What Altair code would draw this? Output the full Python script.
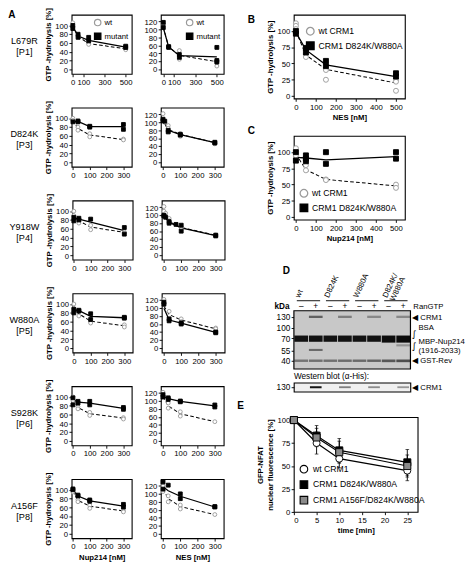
import altair as alt
import pandas as pd

FONT = "Liberation Sans"

# ---------------- Panel A : GTP hydrolysis [%] vs Nup214 (left) / NES (right) [nM]
ROW_NAMES = ["L679R", "D824K", "Y918W", "W880A", "S928K", "A156F"]
ROW_PEPTIDES = ["[P1]", "[P3]", "[P4]", "[P5]", "[P6]", "[P8]"]

L679R_NUP_WT = [(0, 106), (0, 98), (50, 78), (50, 74), (150, 60), (150, 57), (500, 48), (500, 45)]
L679R_NUP_MUT = [(0, 100), (0, 93), (50, 80), (50, 73), (150, 73), (150, 65), (500, 53), (500, 50)]
L679R_NUP_WT_FIT = [(0, 100), (50, 75), (150, 59), (500, 47)]
L679R_NUP_MUT_FIT = [(0, 97), (50, 76), (150, 66), (500, 51)]
L679R_NES_WT = [(0, 113), (50, 57), (50, 55), (150, 47), (150, 25), (500, 8), (500, 22)]
L679R_NES_MUT = [(0, 118), (0, 105), (50, 57), (50, 55), (150, 37), (150, 30), (500, 55), (500, 22), (500, 18)]
L679R_NES_WT_FIT = [(0, 106), (50, 56), (150, 35), (500, 19)]
L679R_NES_MUT_FIT = [(0, 104), (50, 56), (150, 34), (500, 31)]

D824K_NUP_WT = [(0, 100), (0, 95), (30, 80), (30, 73), (100, 65), (100, 58), (300, 53), (300, 51)]
D824K_NUP_MUT = [(0, 92), (30, 94), (30, 92), (100, 82), (100, 80), (300, 86), (300, 75)]
D824K_NUP_WT_FIT = [(0, 97), (30, 77), (100, 62), (300, 52)]
D824K_NUP_MUT_FIT = [(0, 92), (30, 93), (100, 81), (300, 81)]
D824K_NES_WT = [(0, 122), (0, 107), (10, 100), (30, 92), (30, 85), (100, 72), (100, 65), (300, 48), (300, 46)]
D824K_NES_MUT = [(0, 108), (0, 104), (10, 103), (30, 80), (30, 76), (100, 70), (100, 68), (300, 50), (300, 48)]
D824K_NES_WT_FIT = [(0, 106), (10, 98), (30, 82), (100, 70), (300, 49)]
D824K_NES_MUT_FIT = [(0, 106), (10, 98), (30, 80), (100, 69), (300, 49)]

Y918W_NUP_WT = [(0, 100), (0, 90), (30, 78), (30, 73), (100, 68), (100, 58), (300, 53), (300, 50)]
Y918W_NUP_MUT = [(0, 86), (0, 78), (30, 84), (30, 80), (100, 82), (300, 63), (300, 48)]
Y918W_NUP_WT_FIT = [(0, 90), (30, 78), (100, 64), (300, 52)]
Y918W_NUP_MUT_FIT = [(0, 84), (30, 82), (100, 75), (300, 56)]
Y918W_NES_WT = [(0, 122), (0, 110), (10, 105), (30, 92), (30, 86), (100, 70), (100, 65), (300, 50)]
Y918W_NES_MUT = [(0, 100), (0, 98), (10, 95), (30, 84), (30, 80), (70, 77), (100, 75), (100, 60), (300, 50), (300, 48)]
Y918W_NES_WT_FIT = [(0, 103), (10, 95), (30, 84), (100, 69), (300, 50)]
Y918W_NES_MUT_FIT = [(0, 100), (10, 93), (30, 82), (100, 68), (300, 49)]

W880A_NUP_WT = [(0, 100), (0, 90), (30, 73), (100, 60), (100, 57), (300, 53), (300, 48)]
W880A_NUP_MUT = [(0, 88), (0, 80), (30, 86), (30, 84), (100, 78), (100, 65), (300, 70), (300, 68)]
W880A_NUP_WT_FIT = [(0, 95), (30, 78), (100, 61), (300, 51)]
W880A_NUP_MUT_FIT = [(0, 87), (30, 85), (100, 72), (300, 69)]
W880A_NES_WT = [(0, 122), (0, 110), (30, 92), (100, 73), (100, 66), (300, 50), (300, 48)]
W880A_NES_MUT = [(0, 115), (0, 110), (30, 73), (30, 68), (100, 63), (100, 60), (300, 40), (300, 38)]
W880A_NES_WT_FIT = [(0, 105), (30, 84), (100, 70), (300, 48)]
W880A_NES_MUT_FIT = [(0, 100), (30, 70), (100, 62), (300, 39)]

S928K_NUP_WT = [(0, 100), (0, 92), (30, 78), (30, 73), (100, 65), (100, 58), (300, 53), (300, 50)]
S928K_NUP_MUT = [(0, 98), (0, 82), (30, 90), (30, 86), (100, 90), (100, 82), (300, 76), (300, 72)]
S928K_NUP_WT_FIT = [(0, 95), (30, 76), (100, 62), (300, 52)]
S928K_NUP_MUT_FIT = [(0, 95), (30, 88), (100, 86), (300, 74)]
S928K_NES_WT = [(0, 122), (0, 112), (30, 95), (30, 82), (100, 73), (100, 62), (300, 48)]
S928K_NES_MUT = [(0, 116), (0, 110), (30, 108), (30, 104), (100, 100), (100, 98), (300, 90), (300, 85)]
S928K_NES_WT_FIT = [(0, 112), (30, 88), (100, 68), (300, 48)]
S928K_NES_MUT_FIT = [(0, 112), (30, 106), (100, 99), (300, 88)]

A156F_NUP_WT = [(0, 100), (0, 95), (30, 78), (30, 73), (100, 65), (100, 58), (300, 53), (300, 50)]
A156F_NUP_MUT = [(0, 102), (0, 100), (30, 88), (30, 86), (100, 77), (100, 74), (300, 67), (300, 61)]
A156F_NUP_WT_FIT = [(0, 97), (30, 76), (100, 63), (300, 52)]
A156F_NUP_MUT_FIT = [(0, 100), (30, 86), (100, 75), (300, 63)]
A156F_NES_WT = [(0, 120), (0, 106), (30, 95), (30, 80), (100, 72), (100, 62), (300, 48)]
A156F_NES_MUT = [(0, 130), (0, 112), (30, 122), (100, 100), (100, 88), (300, 68), (300, 67)]
A156F_NES_WT_FIT = [(0, 112), (30, 88), (100, 68), (300, 48)]
A156F_NES_MUT_FIT = [(0, 118), (30, 108), (100, 94), (300, 67)]

X_TICKS_500 = [0, 100, 300, 500]
X_TICKS_300 = [0, 100, 200, 300]
Y_TICKS_NUP = [0, 20, 40, 60, 80, 100]
Y_TICKS_NES = [0, 20, 40, 60, 80, 100, 120]

# ---------------- Panels B and C : CRM1 wt vs D824K/W880A
BC_NAMES = ["wt CRM1", "CRM1 D824K/W880A"]
B_WT = [(0, 112), (0, 108), (0, 103), (0, 98), (50, 65), (50, 60), (150, 40), (150, 25), (500, 25), (500, 22), (500, 8)]
B_MUT = [(0, 100), (0, 96), (50, 74), (50, 67), (150, 54), (150, 46), (500, 35), (500, 30)]
B_WT_FIT = [(0, 100), (50, 63), (150, 41), (500, 20)]
B_MUT_FIT = [(0, 98), (50, 71), (150, 48), (500, 30)]
C_WT = [(0, 106), (0, 95), (50, 80), (50, 72), (150, 58), (150, 57), (500, 50), (500, 45)]
C_MUT = [(0, 100), (0, 87), (50, 95), (50, 90), (50, 86), (150, 100), (150, 82), (500, 100), (500, 90)]
C_WT_FIT = [(0, 97), (50, 73), (150, 58), (500, 48)]
C_MUT_FIT = [(0, 92), (50, 91), (150, 88), (500, 93)]
BC_X_TICKS = [0, 100, 200, 300, 400, 500]
BC_Y_TICKS = [0, 25, 50, 75, 100]

# ---------------- Panel D : gel
GEL_GROUPS = ["wt", "D824K", "W880A", "D824K/\nW880A"]
GEL_SIGNS = ["–", "+", "–", "+", "–", "+", "–", "+"]
GEL_MARKERS = [130, 100, 70, 55, 40]
GEL_BAND_LANE = [1, 3, 5, 7, 0, 1, 2, 3, 4, 5, 6, 7, 1, 7, 0, 1, 2, 3, 4, 5, 6, 7]
GEL_BAND_TOP = [134, 134, 134, 134, 78, 78, 78, 78, 78, 78, 78, 78, 57.5, 63, 41.5, 41.5, 41.5, 41.5, 41.5, 41.5, 41.5, 41.5]
GEL_BAND_BOT = [127, 127, 127, 127, 66, 66, 66, 66, 66, 66, 65, 65, 55, 60.5, 38.8, 38.8, 38.8, 38.8, 38.8, 38.8, 38.6, 38.6]
GEL_BAND_INT = [0.5, 0.35, 0.3, 0.3, 0.95, 0.95, 0.95, 0.95, 0.95, 0.95, 0.97, 0.98, 0.45, 0.25,
                0.4, 0.42, 0.42, 0.44, 0.45, 0.48, 0.55, 0.6]
WB_LANE = [1, 3, 5, 7]
WB_INT = [0.95, 0.45, 0.4, 0.35]

# ---------------- Panel E : GFP-NFAT nuclear fluorescence
E_NAMES = ["wt CRM1", "CRM1 D824K/W880A", "CRM1 A156F/D824K/W880A"]
E_TIME = [0, 5, 10, 25]
E_WT = [100, 75, 58, 45]
E_WT_ERR = [0, 12, 10, 11]
E_DW = [100, 83, 67, 54]
E_DW_ERR = [0, 11, 13, 14]
E_ADW = [100, 81, 65, 50]
E_ADW_ERR = [0, 10, 12, 12]


# ======================================================================
def xy_df(pairs):
    return pd.DataFrame({"x": [p[0] for p in pairs], "y": [p[1] for p in pairs]})


def pts_df(wt, mut, names):
    rows = [{"x": x, "y": y, "s": names[0]} for x, y in wt]
    rows += [{"x": x, "y": y, "s": names[1]} for x, y in mut]
    return pd.DataFrame(rows)


def letter(t, dx=0, offset=0):
    return alt.TitleParams(text=t, anchor="start", fontSize=11, fontWeight="bold",
                           dx=dx, offset=offset, font=FONT)


def gtp_panel(wt, mut, wt_fit, mut_fit, xdom, xticks, ydom, yticks, width, height,
              names=("wt", "mutant"), xtitle=None, ytitle=None, legend=None,
              title=None, psize=18):
    x = alt.X("x:Q", scale=alt.Scale(domain=xdom, nice=False, zero=False),
              axis=alt.Axis(values=xticks), title=xtitle)
    y = alt.Y("y:Q", scale=alt.Scale(domain=ydom, nice=False, zero=False),
              axis=alt.Axis(values=yticks), title=ytitle)
    dashed = alt.Chart(xy_df(wt_fit)).mark_line(
        color="black", strokeDash=[4, 2.5], strokeWidth=1.1).encode(x=x, y=y)
    solid = alt.Chart(xy_df(mut_fit)).mark_line(
        color="black", strokeWidth=1.4).encode(x=x, y=y)
    nm = list(names)
    pts = alt.Chart(pts_df(wt, mut, names)).mark_point(
        filled=True, opacity=1, strokeWidth=1, size=psize).encode(
        x=x, y=y,
        shape=alt.Shape("s:N", scale=alt.Scale(domain=nm, range=["circle", "square"]), legend=legend),
        fill=alt.Fill("s:N", scale=alt.Scale(domain=nm, range=["white", "black"]), legend=legend),
        stroke=alt.Stroke("s:N", scale=alt.Scale(domain=nm, range=["#9a9a9a", "black"]), legend=legend),
    )
    ch = alt.layer(dashed, solid, pts).properties(width=width, height=height)
    if title is not None:
        ch = ch.properties(title=title)
    return ch


def indep(ch):
    return ch.resolve_scale(shape="independent", fill="independent",
                            stroke="independent", color="independent")


# ---------------- Panel A
A_DATA = [
    (L679R_NUP_WT, L679R_NUP_MUT, L679R_NUP_WT_FIT, L679R_NUP_MUT_FIT,
     L679R_NES_WT, L679R_NES_MUT, L679R_NES_WT_FIT, L679R_NES_MUT_FIT),
    (D824K_NUP_WT, D824K_NUP_MUT, D824K_NUP_WT_FIT, D824K_NUP_MUT_FIT,
     D824K_NES_WT, D824K_NES_MUT, D824K_NES_WT_FIT, D824K_NES_MUT_FIT),
    (Y918W_NUP_WT, Y918W_NUP_MUT, Y918W_NUP_WT_FIT, Y918W_NUP_MUT_FIT,
     Y918W_NES_WT, Y918W_NES_MUT, Y918W_NES_WT_FIT, Y918W_NES_MUT_FIT),
    (W880A_NUP_WT, W880A_NUP_MUT, W880A_NUP_WT_FIT, W880A_NUP_MUT_FIT,
     W880A_NES_WT, W880A_NES_MUT, W880A_NES_WT_FIT, W880A_NES_MUT_FIT),
    (S928K_NUP_WT, S928K_NUP_MUT, S928K_NUP_WT_FIT, S928K_NUP_MUT_FIT,
     S928K_NES_WT, S928K_NES_MUT, S928K_NES_WT_FIT, S928K_NES_MUT_FIT),
    (A156F_NUP_WT, A156F_NUP_MUT, A156F_NUP_WT_FIT, A156F_NUP_MUT_FIT,
     A156F_NES_WT, A156F_NES_MUT, A156F_NES_WT_FIT, A156F_NES_MUT_FIT),
]

PH = 65  # panel A plot height
rows = []
for i, d in enumerate(A_DATA):
    first, last = i == 0, i == len(A_DATA) - 1
    if first:
        xl_dom, xl_ticks = [-10, 558], X_TICKS_500
        xr_dom, xr_ticks = [-22, 565], X_TICKS_500
    else:
        xl_dom, xl_ticks = [-7, 350], X_TICKS_300
        xr_dom, xr_ticks = [-12, 352], X_TICKS_300
    leg_l = alt.Legend(title=None, orient="top-right", offset=4, symbolSize=50,
                       labelFontSize=8.5, rowPadding=2, padding=0, symbolStrokeWidth=1.3,
                       labelOffset=3) if first else None
    leg_r = alt.Legend(title=None, orient="top-right", offset=4, symbolSize=50,
                       labelFontSize=8.5, rowPadding=2, padding=0, symbolStrokeWidth=1.3,
                       labelOffset=3) if first else None
    label = alt.Chart(pd.DataFrame({"t": [ROW_NAMES[i] + "\n" + ROW_PEPTIDES[i]]})).mark_text(
        lineBreak="\n", fontSize=10, font=FONT, align="center", baseline="middle", lineHeight=12
    ).encode(text="t:N", x=alt.value(17), y=alt.value(PH / 2 - 3)).properties(
        width=30, height=PH, view=alt.ViewBackground(stroke="transparent"))
    left = gtp_panel(d[0], d[1], d[2], d[3], xl_dom, xl_ticks, [-10, 124], Y_TICKS_NUP, 66, PH,
                     xtitle="Nup214 [nM]" if last else None, ytitle="GTP -hydrolysis [%]",
                     legend=leg_l)
    right = gtp_panel(d[4], d[5], d[6], d[7], xr_dom, xr_ticks, [-12, 137], Y_TICKS_NES, 69, PH,
                      xtitle="NES [nM]" if last else None, legend=leg_r)
    pair = indep(alt.hconcat(left, right, spacing=11))
    rows.append(indep(alt.hconcat(label, pair, spacing=4)))

left_col = indep(alt.vconcat(*rows, spacing=14, title=letter("A", dx=0, offset=-14)))

# ---------------- Panels B, C
leg_b = alt.Legend(title=None, orient="top-left", offset=13, symbolSize=70,
                   labelFontSize=9.5, rowPadding=2, padding=0, symbolStrokeWidth=1.4, labelOffset=4)
leg_c = alt.Legend(title=None, orient="bottom-left", offset=6, symbolSize=70,
                   labelFontSize=9.5, rowPadding=2, padding=0, symbolStrokeWidth=1.4, labelOffset=4)
panel_b = gtp_panel(B_WT, B_MUT, B_WT_FIT, B_MUT_FIT, [-10, 545], BC_X_TICKS, [-4, 125], BC_Y_TICKS,
                    122, 92, names=BC_NAMES, xtitle="NES [nM]", ytitle="GTP -hydrolysis [%]",
                    legend=leg_b, title=letter("B", dx=-20, offset=-11), psize=30)
panel_c = gtp_panel(C_WT, C_MUT, C_WT_FIT, C_MUT_FIT, [-10, 545], BC_X_TICKS, [-4, 125], BC_Y_TICKS,
                    122, 92, names=BC_NAMES, xtitle="Nup214 [nM]", ytitle="GTP -hydrolysis [%]",
                    legend=leg_c, title=letter("C", dx=-20, offset=0), psize=30)

# ---------------- Panel D : gel
GEL_W = 128
gel_y_scale = alt.Scale(domain=[33, 40, 55, 70, 100, 130, 150, 200, 300, 400, 1000],
                        range=[90, 80.6, 70.2, 56.4, 44.5, 32.8, 26, 21.5, 15, 13, 0],
                        nice=False, zero=False)
gx = alt.X("lane:Q", scale=alt.Scale(domain=[-0.5, 7.5], nice=False, zero=False), axis=None)
gx2 = alt.X2("lane2:Q")
gy = alt.Y("k:Q", scale=gel_y_scale, title=None,
           axis=alt.Axis(values=GEL_MARKERS, labelFontSize=9, tickSize=3))
gy2 = alt.Y2("k2:Q")

frame_df = pd.DataFrame({"lane": [-0.5], "lane2": [7.5], "k": [150], "k2": [33]})
gel_bg = alt.Chart(frame_df).mark_rect(fill="#c8c8c8").encode(x=gx, x2=gx2, y=gy, y2=gy2)
bands_df = pd.DataFrame({"c": GEL_BAND_LANE, "k": GEL_BAND_TOP, "k2": GEL_BAND_BOT, "i": GEL_BAND_INT})
bands_df["lane"] = bands_df["c"] - 0.47
bands_df["lane2"] = bands_df["c"] + 0.47
gel_bands = alt.Chart(bands_df).mark_rect().encode(
    x=gx, x2=gx2, y=gy, y2=gy2,
    color=alt.Color("i:Q", scale=alt.Scale(domain=[0, 1], range=["#c8c8c8", "#050505"]), legend=None))
gel_frame = alt.Chart(frame_df).mark_rect(fill="transparent", stroke="black", strokeWidth=1.3).encode(
    x=gx, x2=gx2, y=gy, y2=gy2)

signs_df = pd.DataFrame({"lane": list(range(8)), "k": [200] * 8, "t": GEL_SIGNS})
gel_signs = alt.Chart(signs_df).mark_text(fontSize=9, baseline="middle", font=FONT).encode(
    x=gx, y=gy, text="t:N")
grp_df = pd.DataFrame({"g": GEL_GROUPS})
grp_df["lane"] = [2 * j for j in range(4)]
grp_df["k"] = 400
gel_groups = alt.Chart(grp_df).mark_text(angle=295, align="left", baseline="bottom", fontSize=8.5,
                                         lineBreak="\n", font=FONT, lineHeight=9).encode(
    x=gx, y=gy, text="g:N")
ul_df = pd.DataFrame({"lane": [2 * j - 0.3 for j in range(4)],
                      "lane2": [2 * j + 1.3 for j in range(4)], "k": [300] * 4})
gel_ul = alt.Chart(ul_df).mark_rule(color="black", strokeWidth=1).encode(x=gx, x2=gx2, y=gy)
ann_df = pd.DataFrame({
    "t": ["◀ CRM1", "BSA", "MBP-Nup214", "(1916-2033)", "◀ GST-Rev", "RanGTP"],
    "lane": [7.62, 8.05, 8.05, 8.05, 7.62, 7.7],
    "k": [130, 100, 67, 56, 40, 200]})
gel_ann = alt.Chart(ann_df).mark_text(align="left", baseline="middle", fontSize=8.5, font=FONT).encode(
    x=gx, y=gy, text="t:N")
brace_df = pd.DataFrame({"t": ["∫", "∫"], "lane": [7.75, 7.75], "k": [82, 61]})
gel_brace = alt.Chart(brace_df).mark_text(align="center", baseline="middle", fontSize=10,
                                          font="DejaVu Sans").encode(x=gx, y=gy, text="t:N")
kda_df = pd.DataFrame({"t": ["kDa"], "lane": [-0.8], "k": [200]})
gel_kda = alt.Chart(kda_df).mark_text(align="right", baseline="middle", fontSize=9,
                                      fontWeight="bold", font=FONT).encode(x=gx, y=gy, text="t:N")

gel = alt.layer(gel_bg, gel_bands, gel_frame, gel_signs, gel_groups, gel_ul, gel_ann,
                gel_brace, gel_kda).properties(
    width=GEL_W, height=90, title=letter("D", dx=9, offset=-4),
    view=alt.ViewBackground(stroke="transparent"))

wy = alt.Y("k:Q", scale=alt.Scale(domain=[124, 136], nice=False, zero=False), title=None,
           axis=alt.Axis(values=[130], labelFontSize=9, tickSize=3))
wb_df = pd.DataFrame({"c": WB_LANE, "i": WB_INT})
wb_df["lane"] = wb_df["c"] - 0.4
wb_df["lane2"] = wb_df["c"] + 0.4
wb_df["k"] = 131.2
wb_df["k2"] = 128.8
wb_bands = alt.Chart(wb_df).mark_rect().encode(
    x=gx, x2=gx2, y=wy, y2=gy2,
    color=alt.Color("i:Q", scale=alt.Scale(domain=[0, 1], range=["#f0f0f0", "#080808"]), legend=None))
wb_ann_df = pd.DataFrame({"t": ["◀ CRM1"], "lane": [7.62], "k": [130]})
wb_ann = alt.Chart(wb_ann_df).mark_text(align="left", baseline="middle", fontSize=8.5, font=FONT).encode(
    x=gx, y=wy, text="t:N")
western = alt.layer(wb_bands, wb_ann).properties(
    width=GEL_W, height=10,
    title=alt.TitleParams(text="Western blot (α-His):", anchor="start", frame="group", fontSize=9,
                          fontWeight="normal", offset=2, font=FONT),
    view=alt.ViewBackground(fill="#f0f0f0", stroke="black", strokeWidth=1.2))

gel_block = indep(alt.vconcat(gel, western, spacing=15, bounds="flush"))

# ---------------- Panel E
e_rows = []
for name, vals, errs in zip(E_NAMES, [E_WT, E_DW, E_ADW], [E_WT_ERR, E_DW_ERR, E_ADW_ERR]):
    for t, v, e in zip(E_TIME, vals, errs):
        e_rows.append({"t": t, "v": v, "lo": v - e, "hi": v + e, "e": e, "s": name})
e_df = pd.DataFrame(e_rows)
ex = alt.X("t:Q", scale=alt.Scale(domain=[0, 27.3], nice=False, zero=False),
           axis=alt.Axis(values=[0, 5, 10, 15, 20, 25]), title="time [min]")
e_scale = alt.Scale(domain=[0, 103], nice=False, zero=False)
e_ytitle = ["GFP-NFAT", "nuclear fluorescence [%]"]
e_axis = alt.Axis(values=[0, 25, 50, 75, 100])
e_err = alt.Chart(e_df[e_df["e"] > 0]).mark_errorbar(ticks=True, color="black", size=4, thickness=1).encode(
    x=ex, y=alt.Y("lo:Q", scale=e_scale, axis=e_axis, title=e_ytitle), y2="hi:Q")
e_line = alt.Chart(e_df).mark_line(color="black", strokeWidth=1.3).encode(
    x=ex, y=alt.Y("v:Q", scale=e_scale, axis=e_axis, title=e_ytitle), detail="s:N")
leg_e = alt.Legend(title=None, orient="bottom-left", offset=6, symbolSize=70,
                   labelFontSize=9.5, rowPadding=3, padding=0, labelOffset=5, symbolStrokeWidth=1.2)
e_pts = alt.Chart(e_df).mark_point(filled=True, opacity=1, size=60, stroke="black", strokeWidth=1).encode(
    x=ex, y=alt.Y("v:Q", scale=e_scale, axis=e_axis, title=e_ytitle),
    shape=alt.Shape("s:N", scale=alt.Scale(domain=E_NAMES, range=["circle", "square", "square"]), legend=leg_e),
    fill=alt.Fill("s:N", scale=alt.Scale(domain=E_NAMES, range=["white", "black", "#8a8a8a"]), legend=leg_e),
)
panel_e = alt.layer(e_err, e_line, e_pts).properties(
    width=136, height=104, title=letter("E", dx=-21, offset=4))

bc = indep(alt.vconcat(panel_b, panel_c, spacing=3))
de = indep(alt.vconcat(gel_block, panel_e, spacing=8))
right_col = indep(alt.vconcat(bc, de, spacing=23))

chart = indep(alt.hconcat(left_col, right_col, spacing=12)).properties(
    padding={"left": 0, "top": -30, "right": 0, "bottom": 0}
).configure(
    font=FONT
).configure_axis(
    labelFont=FONT, titleFont=FONT, labelFontSize=8.5, titleFontSize=8.5, titleFontWeight="bold",
    labelColor="black", titleColor="black", tickColor="black", tickSize=3, domain=False,
    grid=False, labelPadding=1.5, titlePadding=3
).configure_view(
    stroke="black", strokeWidth=1.2
).configure_title(
    font=FONT, color="black"
).configure_legend(
    labelFont=FONT, labelColor="black"
)

chart.save("out.html", embed_options={"renderer": "svg", "actions": False})
